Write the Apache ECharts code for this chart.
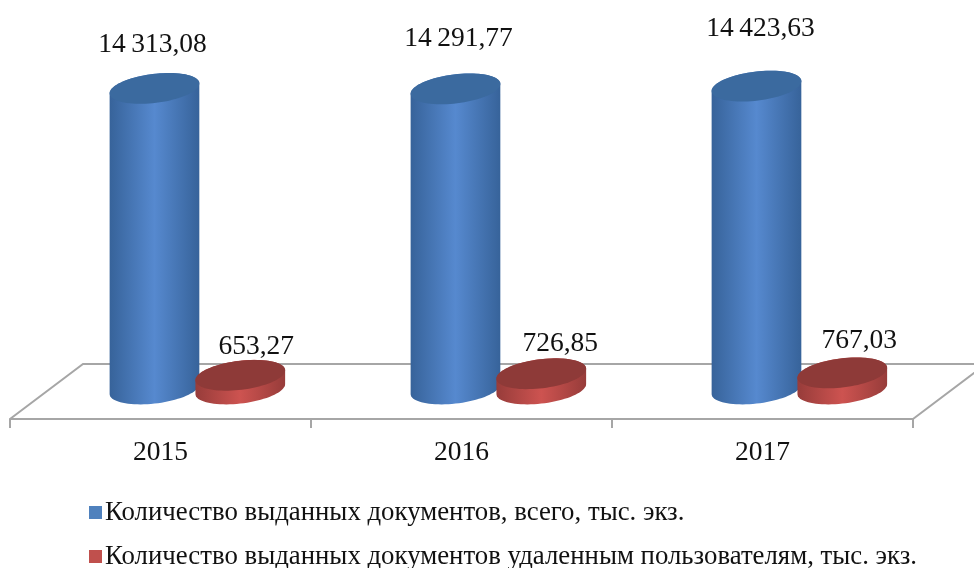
<!DOCTYPE html>
<html>
<head>
<meta charset="utf-8">
<style>
html, body { margin: 0; padding: 0; background: #fff; }
#main { width: 974px; height: 568px; }
</style>
<script src="https://cdn.jsdelivr.net/npm/echarts@6/dist/echarts.min.js"></script>
</head>
<body>
<div id="main"></div>
<script>
var years = ['2015', '2016', '2017'];
var totalDocs = [14313.08, 14291.77, 14423.63];
var remoteDocs = [653.27, 726.85, 767.03];
var seriesNames = [
	'Количество выданных документов, всего, тыс. экз.',
	'Количество выданных документов удаленным пользователям, тыс. экз.'
];

// hand placed labels in the original: shift from the cylinder centre and top
var totalLabelShift = [[-2, -44], [3, -50], [4, -57]];
var remoteLabelShift = [[16, -29], [19, -30], [17, -32]];

var FONT = '"Liberation Serif", "Times New Roman", serif';
var TILT = -7 * Math.PI / 180;

function fmt(v) {
	var s = v.toFixed(2).replace('.', ',');
	var p = s.split(',');
	if (p[0].length > 3) {
		p[0] = p[0].slice(0, -3) + '\u2009' + p[0].slice(-3);
	}
	return p.join(',');
}

function ellipsePoint(cx, cy, a, b, t) {
	return [
		cx + a * Math.cos(t) * Math.cos(TILT) - b * Math.sin(t) * Math.sin(TILT),
		cy + a * Math.cos(t) * Math.sin(TILT) + b * Math.sin(t) * Math.cos(TILT)
	];
}

function arc(cx, cy, a, b, from) {
	var pts = [];
	for (var i = 0; i <= 40; i++) {
		pts.push(ellipsePoint(cx, cy, a, b, from + Math.PI * i / 40));
	}
	return pts;
}

function cylinder(shift, labelShift, edge, mid, topColor) {
	return function (params, api) {
		var i = api.value(0);
		var band = api.size([1, 0])[0];
		var top = api.coord([i, api.value(1)]);
		var base = api.coord([i, 0]);
		var cx = top[0] + band * shift;
		var a = band * 0.15;
		var b = 14.5;
		var t0 = Math.atan(-(b / a) * Math.tan(TILT));
		var body = arc(cx, base[1], a, b, t0).concat(arc(cx, top[1], a, b, t0 + Math.PI));
		var cap = arc(cx, top[1], a, b, 0).concat(arc(cx, top[1], a, b, Math.PI));
		return {
			type: 'group',
			children: [{
				type: 'polygon',
				shape: { points: body },
				style: {
					fill: new echarts.graphic.LinearGradient(0, 0, 1, 0, [
						{ offset: 0, color: edge },
						{ offset: 0.5, color: mid },
						{ offset: 1, color: edge }
					])
				}
			}, {
				type: 'polygon',
				shape: { points: cap },
				style: { fill: topColor }
			}, {
				type: 'text',
				style: {
					x: cx + labelShift[i][0],
					y: top[1] + labelShift[i][1],
					text: fmt(api.value(1)),
					font: '27.5px ' + FONT,
					fill: '#111',
					align: 'center',
					verticalAlign: 'middle'
				}
			}]
		};
	};
}

// back edges of the floor, depth taken from the grid
function floor(params, api) {
	var g = params.coordSys;
	var front = g.y + g.height + 30;
	var back = g.y + g.height - 25;
	var right = g.x + g.width;
	return {
		type: 'polyline',
		shape: {
			points: [
				[g.x, front], [g.x + 73, back], [right + 73, back], [right, front]
			]
		},
		style: { fill: 'none', stroke: '#a6a6a6', lineWidth: 2 }
	};
}

var myChart = echarts.init(document.getElementById('main'));

myChart.setOption({
	animation: false,
	backgroundColor: '#fff',
	grid: { left: 10, top: 53, width: 903, height: 336 },
	legend: {
		orient: 'vertical',
		left: 89,
		top: 499,
		height: 90,
		padding: 0,
		itemWidth: 13,
		itemHeight: 13,
		itemGap: 17,
		data: [
			{ name: seriesNames[0], icon: 'rect' },
			{ name: seriesNames[1], icon: 'rect' }
		],
		textStyle: { fontFamily: FONT, fontSize: 26.8, color: '#111', padding: [0, 0, 0, -2] }
	},
	xAxis: {
		type: 'category',
		data: years,
		offset: 30,
		axisLine: { onZero: false, lineStyle: { color: '#a6a6a6', width: 2 } },
		axisTick: { show: true, length: 9, lineStyle: { color: '#a6a6a6', width: 2 } },
		axisLabel: { fontFamily: FONT, fontSize: 27.5, color: '#111', margin: 20 }
	},
	yAxis: { type: 'value', min: 0, max: 16000, show: false },
	series: [{
		type: 'custom',
		name: 'floor',
		silent: true,
		clip: false,
		data: [[0, 0]],
		renderItem: floor
	}, {
		type: 'custom',
		name: seriesNames[0],
		clip: false,
		itemStyle: { color: '#4f81bd' },
		encode: { x: 0, y: 1 },
		data: totalDocs.map(function (v, i) { return [i, v]; }),
		renderItem: cylinder(-0.02, totalLabelShift, '#37639a', '#5689cf', '#3b6a9f')
	}, {
		type: 'custom',
		name: seriesNames[1],
		clip: false,
		itemStyle: { color: '#c0504d' },
		encode: { x: 0, y: 1 },
		data: remoteDocs.map(function (v, i) { return [i, v]; }),
		renderItem: cylinder(0.265, remoteLabelShift, '#973c3a', '#cd5350', '#8e3a38')
	}]
});
</script>
</body>
</html>
